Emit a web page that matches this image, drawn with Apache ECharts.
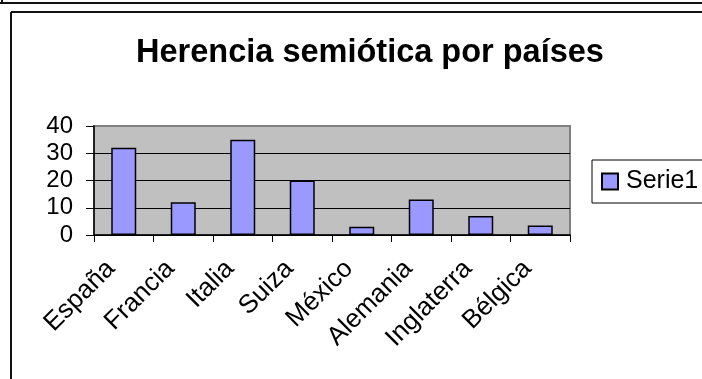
<!DOCTYPE html>
<html>
<head>
<meta charset="utf-8">
<script src="https://cdn.jsdelivr.net/npm/echarts@6/dist/echarts.min.js"></script>
<style>
html,body{margin:0;padding:0;background:#fff;}
#c{width:702px;height:379px;}
</style>
</head>
<body>
<div id="c"></div>
<script>
var titleText = 'Herencia semiótica por países';
var categories = ['España', 'Francia', 'Italia', 'Suiza', 'México', 'Alemania', 'Inglaterra', 'Bélgica'];
var seriesName = 'Serie1';
var values = [32, 12, 35, 20, 3, 13, 7, 3.5];
var yTicks = [0, 10, 20, 30, 40];

var FONT = 'Liberation Sans, Arial, sans-serif';
var chart = echarts.init(document.getElementById('c'), null, {renderer: 'canvas'});
chart.setOption({
  animation: false,
  backgroundColor: '#ffffff',
  title: {
    text: titleText,
    left: 365,
    textAlign: 'center',
    top: 32,
    textStyle: {fontFamily: FONT, fontSize: 32.5, fontWeight: 'bold', color: '#000'}
  },
  legend: {
    data: [seriesName],
    left: 592,
    top: 160,
    orient: 'vertical',
    padding: [9, 40, 9, 9],
    borderColor: '#000',
    borderWidth: 1,
    itemWidth: 16,
    itemHeight: 16,
    icon: 'rect',
    textStyle: {fontFamily: FONT, fontSize: 25, color: '#000', lineHeight: 25, padding: [0, 0, 0, 3]}
  },
  grid: {
    left: 94, top: 126, width: 476, height: 109,
    show: true,
    backgroundColor: '#c0c0c0',
    borderColor: '#808080',
    borderWidth: 2,
    containLabel: false
  },
  xAxis: {
    type: 'category',
    data: categories,
    boundaryGap: true,
    axisLine: {show: true, lineStyle: {color: '#000', width: 1.5}},
    axisTick: {show: true, length: 7, alignWithLabel: false, lineStyle: {color: '#000', width: 1}},
    axisLabel: {
      interval: 0, rotate: 45, margin: 17, padding: [0, 18, 0, 0],
      fontFamily: FONT, fontSize: 26, color: '#000'
    },
    splitLine: {show: false}
  },
  yAxis: {
    type: 'value',
    min: yTicks[0], max: yTicks[yTicks.length - 1], interval: 10,
    axisLine: {show: true, lineStyle: {color: '#000', width: 1.5}},
    axisTick: {show: true, length: 8, lineStyle: {color: '#000', width: 1}},
    axisLabel: {margin: 21, fontFamily: FONT, fontSize: 24, color: '#000'},
    splitLine: {show: true, lineStyle: {color: ['#000', '#000', '#000', '#000', '#808080'], width: 1}}
  },
  series: [{
    name: seriesName,
    type: 'bar',
    data: values,
    barWidth: 25,
    itemStyle: {color: '#9999ff', borderColor: '#000', borderWidth: 1.5}
  }],
  graphic: [
    {type: 'line', shape: {x1: 0, y1: 3, x2: 702, y2: 3}, style: {stroke: '#111', lineWidth: 2}},
    {type: 'line', shape: {x1: 2, y1: 0, x2: 2, y2: 3}, style: {stroke: '#111', lineWidth: 2}},
    {type: 'line', shape: {x1: 11, y1: 12, x2: 702, y2: 12}, style: {stroke: '#111', lineWidth: 2}},
    {type: 'line', shape: {x1: 11, y1: 12, x2: 11, y2: 379}, style: {stroke: '#111', lineWidth: 2}}
  ]
});
</script>
</body>
</html>
